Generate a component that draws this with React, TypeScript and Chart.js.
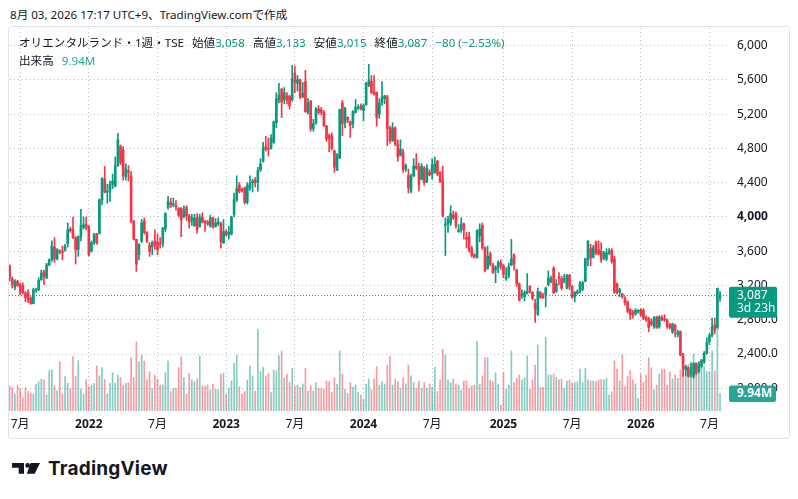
import React, { useEffect, useRef } from "react";
import { Chart, registerables } from "chart.js";

Chart.register(...registerables);

// Weekly bars, first week starting 2021-06-07, last week 2026-08-03
const firstWeek = "2021-06-07";

const opens = [
  3430, 3280, 3180, 3250, 3210, 3200, 3110, 3120, 3050, 2990,
  3140, 3150, 3270, 3360, 3290, 3440, 3500, 3650, 3510, 3600,
  3600, 3610, 3690, 3860, 3850, 3760, 3620, 3770, 3880, 3910,
  3890, 3600, 3700, 3800, 3810, 4200, 4440, 4290, 4300, 4380,
  4360, 4600, 4820, 4780, 4470, 4540, 4480, 3950, 3740, 3560,
  3720, 3950, 3820, 3670, 3650, 3720, 3710, 3690, 3690, 3860,
  4110, 4170, 4140, 4130, 4100, 4100, 4010, 4110, 4010, 3960,
  3900, 3990, 3890, 4000, 3950, 3940, 3900, 3990, 3890, 3920,
  3920, 3700, 3830, 3790, 3800, 4030, 4200, 4370, 4320, 4340,
  4170, 4340, 4400, 4430, 4400, 4550, 4650, 4820, 4800, 4800,
  4870, 5100, 5370, 5490, 5370, 5410, 5410, 5370, 5680, 5560,
  5600, 5400, 5580, 5220, 5350, 5030, 5100, 5260, 5250, 5220,
  5060, 4950, 4950, 4770, 4550, 4690, 5330, 5100, 5160, 5110,
  5090, 5220, 5270, 5290, 5240, 5310, 5540, 5580, 5460, 5450,
  5200, 5340, 5380, 5400, 5040, 4890, 5040, 4850, 4720, 4750,
  4560, 4480, 4300, 4480, 4600, 4580, 4440, 4570, 4410, 4520,
  4500, 4520, 4650, 4520, 4430, 3905, 3920, 3930, 4020, 4040,
  3830, 3850, 3920, 3760, 3770, 3630, 3560, 3530, 3780, 3900,
  3640, 3400, 3570, 3440, 3380, 3410, 3470, 3430, 3280, 3310,
  3440, 3560, 3380, 3220, 3080, 3070, 3110, 3190, 3120, 2990,
  2860, 3120, 3080, 3090, 3210, 3250, 3400, 3130, 3300, 3280,
  3260, 3170, 3320, 3190, 3070, 3110, 3140, 3160, 3250, 3500,
  3630, 3530, 3700, 3620, 3600, 3530, 3510, 3580, 3610, 3510,
  3220, 3120, 3100, 3050, 3010, 2920, 2880, 2870, 2890, 2920,
  2910, 2830, 2810, 2780, 2720, 2830, 2720, 2830, 2810, 2800,
  2740, 2660, 2730, 2630, 2660, 2400, 2220, 2240, 2180, 2140,
  2290, 2200, 2260, 2310, 2410, 2550, 2620, 2740, 2710, 3058,
];

const highs = [
  3440, 3300, 3270, 3260, 3230, 3230, 3130, 3150, 3070, 3170,
  3170, 3290, 3380, 3380, 3460, 3510, 3720, 3760, 3630, 3620,
  3660, 3680, 3930, 3880, 4000, 3770, 3780, 4090, 4000, 4000,
  3900, 3720, 3810, 3810, 4210, 4460, 4590, 4380, 4420, 4500,
  4700, 4975, 4840, 4820, 4620, 4600, 4530, 3960, 3740, 3690,
  3970, 3990, 3830, 3700, 3720, 3850, 3800, 3760, 3880, 4050,
  4240, 4220, 4220, 4190, 4110, 4110, 4130, 4130, 4030, 4030,
  4030, 4040, 4030, 4050, 3960, 3960, 4020, 4000, 3980, 3990,
  3940, 3970, 3850, 3890, 4010, 4280, 4480, 4400, 4340, 4350,
  4400, 4480, 4440, 4460, 4580, 4680, 4870, 4940, 4920, 4960,
  5120, 5450, 5560, 5500, 5510, 5450, 5420, 5770, 5760, 5650,
  5610, 5570, 5710, 5380, 5360, 5140, 5280, 5300, 5280, 5240,
  5070, 4970, 4980, 4780, 4740, 5260, 5360, 5280, 5170, 5120,
  5240, 5370, 5310, 5320, 5320, 5570, 5780, 5650, 5650, 5460,
  5380, 5580, 5420, 5420, 5060, 5100, 5050, 4900, 4900, 4790,
  4620, 4560, 4500, 4680, 4740, 4630, 4620, 4590, 4610, 4550,
  4680, 4700, 4660, 4530, 4590, 3990, 4010, 4130, 4070, 4060,
  3910, 3990, 3930, 3820, 3820, 3660, 3570, 3850, 3920, 3930,
  3650, 3660, 3590, 3460, 3430, 3490, 3500, 3450, 3410, 3460,
  3740, 3570, 3390, 3230, 3150, 3140, 3340, 3200, 3130, 3040,
  3170, 3130, 3110, 3180, 3370, 3310, 3420, 3270, 3350, 3310,
  3330, 3330, 3330, 3200, 3130, 3150, 3250, 3250, 3520, 3720,
  3680, 3670, 3720, 3720, 3700, 3600, 3630, 3630, 3630, 3540,
  3230, 3170, 3110, 3070, 3020, 2930, 2910, 2930, 2920, 2930,
  2930, 2850, 2830, 2810, 2840, 2840, 2850, 2850, 2860, 2810,
  2760, 2760, 2750, 2680, 2670, 2410, 2270, 2250, 2290, 2300,
  2300, 2310, 2340, 2430, 2590, 2640, 2820, 2820, 3170, 3133,
];

const lows = [
  3250, 3170, 3150, 3190, 3090, 3100, 3010, 3000, 2980, 2985,
  3120, 3140, 3260, 3210, 3280, 3430, 3480, 3470, 3500, 3570,
  3500, 3600, 3650, 3820, 3750, 3450, 3540, 3720, 3860, 3850,
  3545, 3590, 3680, 3680, 3800, 4140, 4280, 4160, 4180, 4330,
  4350, 4590, 4610, 4430, 4430, 4420, 3930, 3730, 3365, 3500,
  3700, 3800, 3700, 3540, 3560, 3620, 3560, 3640, 3650, 3830,
  4090, 4110, 4120, 4080, 4000, 3770, 3990, 3960, 3870, 3900,
  3890, 3810, 3880, 3930, 3830, 3900, 3880, 3870, 3880, 3900,
  3640, 3690, 3780, 3740, 3790, 4000, 4180, 4280, 4290, 4150,
  4150, 4310, 4290, 4350, 4300, 4530, 4640, 4770, 4710, 4790,
  4860, 5040, 5330, 5160, 5320, 5320, 5260, 5350, 5450, 5470,
  5380, 5390, 5220, 5200, 5000, 5000, 5080, 5200, 5190, 5060,
  4880, 4760, 4780, 4520, 4540, 4680, 4950, 5040, 5100, 4930,
  5040, 5210, 5250, 5250, 5120, 5300, 5520, 5440, 5420, 5060,
  5150, 5300, 5320, 4830, 4860, 4880, 4830, 4650, 4710, 4520,
  4530, 4280, 4280, 4470, 4550, 4300, 4430, 4370, 4400, 4480,
  4440, 4510, 4480, 4400, 4000, 3550, 3820, 3900, 3970, 3870,
  3820, 3820, 3740, 3640, 3590, 3530, 3520, 3520, 3710, 3620,
  3360, 3390, 3430, 3340, 3230, 3350, 3390, 3290, 3260, 3290,
  3430, 3380, 3190, 3020, 3050, 3020, 3100, 3110, 3030, 2770,
  2850, 3050, 3050, 2950, 3200, 3230, 3110, 3120, 3210, 3150,
  3230, 3160, 3150, 3050, 3010, 3100, 3110, 3140, 3240, 3430,
  3430, 3520, 3560, 3560, 3470, 3500, 3490, 3560, 3460, 3110,
  3100, 3070, 3050, 2970, 2880, 2800, 2820, 2850, 2880, 2840,
  2800, 2780, 2660, 2730, 2700, 2700, 2700, 2790, 2780, 2700,
  2690, 2640, 2600, 2600, 2380, 2140, 2150, 2130, 2130, 2120,
  2160, 2180, 2240, 2290, 2400, 2510, 2600, 2640, 2700, 3015,
];

const closes = [
  3290, 3210, 3250, 3200, 3120, 3110, 3060, 3030, 2990, 3150,
  3150, 3260, 3345, 3310, 3440, 3500, 3660, 3510, 3620, 3590,
  3585, 3660, 3850, 3840, 3760, 3620, 3770, 3900, 3910, 3880,
  3560, 3700, 3800, 3700, 4200, 4450, 4290, 4300, 4380, 4420,
  4600, 4900, 4640, 4480, 4560, 4520, 3950, 3740, 3450, 3680,
  3930, 3820, 3720, 3600, 3700, 3680, 3620, 3680, 3870, 4040,
  4180, 4140, 4150, 4120, 4020, 3965, 4080, 4010, 3940, 3990,
  3990, 3850, 3990, 3940, 3940, 3920, 3990, 3880, 3930, 3940,
  3710, 3830, 3790, 3820, 4000, 4200, 4330, 4300, 4310, 4170,
  4370, 4390, 4420, 4400, 4540, 4620, 4810, 4790, 4790, 4920,
  5110, 5380, 5420, 5340, 5450, 5360, 5300, 5610, 5570, 5600,
  5400, 5440, 5230, 5330, 5030, 5090, 5260, 5220, 5220, 5060,
  4910, 4910, 4800, 4580, 4730, 5250, 5090, 5270, 5130, 5070,
  5230, 5280, 5275, 5260, 5300, 5560, 5590, 5450, 5430, 5160,
  5330, 5400, 5410, 5030, 4890, 5040, 4850, 4700, 4790, 4550,
  4600, 4340, 4480, 4590, 4570, 4380, 4590, 4400, 4570, 4490,
  4610, 4620, 4500, 4420, 4010, 3920, 3970, 4040, 3990, 3900,
  3850, 3920, 3850, 3740, 3620, 3550, 3530, 3840, 3860, 3640,
  3370, 3540, 3450, 3350, 3410, 3470, 3430, 3330, 3300, 3420,
  3510, 3450, 3220, 3030, 3100, 3120, 3130, 3130, 3050, 2920,
  3130, 3060, 3060, 3170, 3290, 3280, 3110, 3220, 3280, 3170,
  3280, 3320, 3190, 3060, 3120, 3130, 3230, 3230, 3510, 3720,
  3520, 3640, 3580, 3570, 3500, 3580, 3580, 3600, 3480, 3120,
  3120, 3150, 3070, 3000, 2900, 2860, 2860, 2910, 2910, 2860,
  2820, 2800, 2710, 2750, 2820, 2710, 2830, 2800, 2800, 2720,
  2710, 2750, 2680, 2660, 2390, 2240, 2250, 2140, 2200, 2290,
  2180, 2280, 2330, 2410, 2540, 2620, 2720, 2680, 3167, 3087,
];

// weekly volume, millions of shares
const volumes = [
  14.3, 13.3, 9.7, 14.8, 12.7, 7.6, 13.3, 11.0, 10.4, 9.7,
  15.4, 16.7, 18.2, 17.7, 9.1, 23.0, 23.4, 14.3, 11.6, 28.1,
  9.7, 19.6, 15.8, 12.7, 31.0, 19.6, 28.7, 12.7, 9.7, 18.0,
  13.9, 14.8, 15.8, 25.6, 20.0, 24.7, 18.0, 9.7, 15.8, 21.8,
  15.8, 20.5, 19.0, 14.8, 15.8,
  16.2, 30.4, 19.0, 39.5, 28.1, 31.9, 28.5, 17.7, 22.4, 12.9,
  20.5, 18.2, 14.8, 14.8, 21.8, 28.5, 11.0, 12.9, 12.9, 24.7,
  31.0, 19.0, 9.7, 21.5, 17.7, 16.7, 18.2, 31.4, 14.3, 14.3,
  14.8, 12.0, 15.2, 12.4, 12.0, 21.1, 21.5, 9.5, 12.9, 17.1,
  27.2, 31.9, 13.9, 9.5, 11.0, 17.7, 25.7,
  20.0, 11.4, 46.6, 22.4, 24.9, 20.0, 21.5, 10.5, 23.4, 22.8,
  31.4, 34.2, 18.6, 21.1, 16.2, 24.3, 14.3, 14.8, 13.5, 15.4,
  24.3, 11.4, 14.3, 11.4, 16.2, 12.9, 12.9, 12.4, 17.1, 16.7,
  10.5, 19.0, 15.4, 34.2, 21.1, 12.4, 10.1, 16.2, 13.5, 14.8,
  10.5, 9.1, 6.7, 15.4, 18.2,
  12.0, 18.2, 25.3, 14.8, 16.7, 15.4, 26.2, 31.0, 14.8, 18.2,
  16.7, 12.9, 19.0, 15.4, 26.2, 20.0, 16.2, 12.9, 17.1, 12.9,
  16.2, 12.9, 15.4, 13.5, 24.9, 11.0, 17.7, 35.3, 31.9, 17.7,
  16.2, 18.2, 15.4, 14.8, 12.0, 17.1, 17.1, 12.9, 14.3, 14.8,
  39.9, 15.4, 20.0, 30.4, 30.4, 17.7,
  16.7, 21.8, 15.4, 3.4, 21.8, 12.4, 14.8, 34.2, 16.2, 18.6,
  20.5, 17.7, 19.0, 31.4, 12.4, 17.7, 26.2, 37.6, 13.5, 13.5,
  42.0, 20.5, 20.5, 21.1, 19.2, 17.7, 18.2, 12.9, 17.1, 17.7,
  16.2, 16.3, 16.7, 23.9, 16.2, 24.3, 17.7, 17.1, 17.1, 16.7,
  17.7, 18.0, 17.7, 18.6, 9.1,
  11.0, 28.5, 23.9, 17.1, 31.9, 13.9, 19.6, 23.0, 17.7, 15.4,
  7.2, 21.1, 16.3, 20.5, 30.4, 24.7, 12.0, 14.8, 21.1, 23.9,
  23.9, 14.8, 22.2, 18.2, 20.5, 18.6, 23.4, 29.5, 26.2, 26.6,
  28.1, 32.5, 27.2, 28.1, 25.3, 25.3, 22.4, 22.4, 34.2, 22.8,
  50.0, 9.94,
];

const priceTicks = [2000, 2400, 2800, 3200, 3600, 4000, 4400, 4800, 5200, 5600, 6000];
const timeTickIndex = [4, 30, 56, 82, 108, 134, 160, 187, 213, 239, 265];
const timeTickLabels = ["7月", "2022", "7月", "2023", "7月", "2024", "7月", "2025", "7月", "2026", "7月"];

const UP = "#089981";
const DOWN = "#F23645";
const UP_VOL = "rgba(8,153,129,0.5)";
const DOWN_VOL = "rgba(242,54,69,0.5)";
const VOL_TAG = "#26a69a";
const TEXT = "#131722";
const GRID = "#b9bcc3";
const FONT = '"Noto Sans", "Noto Sans CJK JP", sans-serif';

const countdownText = "3d 23h";

function fmtPrice(v: number): string {
  if (v >= 3000) return v.toLocaleString("en-US");
  return v.toLocaleString("en-US", { minimumFractionDigits: 1, maximumFractionDigits: 1 });
}

// dotted grid drawn at the scales' tick positions
const dottedGridPlugin = {
  id: "dottedGrid",
  beforeDatasetsDraw(chart: any) {
    const { ctx, chartArea, scales } = chart;
    const { left, right, top, bottom } = chartArea;
    ctx.save();
    ctx.fillStyle = GRID;
    scales.y.ticks.forEach((t: any) => {
      const y = Math.floor(scales.y.getPixelForValue(t.value));
      for (let x = Math.ceil(left) + 1; x < right; x += 4) ctx.fillRect(x, y, 1, 1);
    });
    scales.x.ticks.forEach((t: any) => {
      const x = Math.floor(scales.x.getPixelForValue(t.value));
      for (let y = Math.ceil(top) + 1; y < bottom; y += 4) ctx.fillRect(x, y, 1, 1);
    });
    ctx.restore();
  },
};

const lastPricePlugin = {
  id: "lastPrice",
  afterDatasetsDraw(chart: any) {
    const { ctx, chartArea, scales } = chart;
    const last = closes[closes.length - 1];
    const y = Math.floor(scales.y.getPixelForValue(last));
    ctx.save();
    ctx.fillStyle = UP;
    for (let x = Math.ceil(chartArea.left); x < chartArea.right; x += 3) ctx.fillRect(x, y, 1, 1);
    ctx.restore();
  },
  afterDraw(chart: any) {
    const { ctx, chartArea, scales } = chart;
    const last = closes[closes.length - 1];
    const lastVol = volumes[volumes.length - 1];
    const py = scales.y.getPixelForValue(last);
    const vy = scales.vol.getPixelForValue(lastVol);
    const x0 = chartArea.right + 2;
    const roundRect = (x: number, y: number, w: number, h: number, r: number) => {
      ctx.beginPath();
      ctx.moveTo(x + r, y);
      ctx.lineTo(x + w - r, y);
      ctx.quadraticCurveTo(x + w, y, x + w, y + r);
      ctx.lineTo(x + w, y + h - r);
      ctx.quadraticCurveTo(x + w, y + h, x + w - r, y + h);
      ctx.lineTo(x + r, y + h);
      ctx.quadraticCurveTo(x, y + h, x, y + h - r);
      ctx.lineTo(x, y + r);
      ctx.quadraticCurveTo(x, y, x + r, y);
      ctx.closePath();
      ctx.fill();
    };
    ctx.save();
    ctx.fillStyle = UP;
    roundRect(x0, py - 8.5, 48, 31, 2);
    ctx.fillStyle = "#ffffff";
    ctx.font = `12px ${FONT}`;
    ctx.textAlign = "left";
    ctx.textBaseline = "middle";
    ctx.fillText(fmtPrice(last), x0 + 8, py + 0.5);
    ctx.fillText(countdownText, x0 + 8, py + 13);
    ctx.fillStyle = VOL_TAG;
    roundRect(x0, vy - 8, 47, 16.5, 2);
    ctx.fillStyle = "#ffffff";
    ctx.font = `bold 12px ${FONT}`;
    ctx.fillText(lastVol.toFixed(2) + "M", x0 + 8, vy + 0.5);
    ctx.restore();
  },
};

export default function App() {
  const canvasRef = useRef<HTMLCanvasElement | null>(null);

  useEffect(() => {
    const canvas = canvasRef.current;
    if (!canvas) return;
    const isUp = closes.map((c, i) => c >= opens[i]);
    const candleColors = isUp.map((u) => (u ? UP : DOWN));
    const volColors = isUp.map((u) => (u ? UP_VOL : DOWN_VOL));

    const chart = new Chart(canvas, {
      type: "bar",
      data: {
        datasets: [
          {
            label: "volume",
            data: volumes.map((v, i) => ({ x: i, y: v })),
            yAxisID: "vol",
            backgroundColor: volColors,
            barThickness: 1,
            grouped: false,
            order: 3,
          } as any,
          {
            label: "wick",
            data: lows.map((l, i) => ({ x: i, y: [l, highs[i]] })),
            yAxisID: "y",
            backgroundColor: candleColors,
            barThickness: 1,
            grouped: false,
            order: 2,
          } as any,
          {
            label: "body",
            data: opens.map((o, i) => ({ x: i, y: [o, closes[i]] })),
            yAxisID: "y",
            backgroundColor: candleColors,
            barThickness: 2,
            minBarLength: 1,
            grouped: false,
            order: 1,
          } as any,
        ],
      },
      options: {
        animation: false,
        responsive: false,
        devicePixelRatio: 1,
        layout: { padding: 0 },
        plugins: {
          legend: { display: false },
          tooltip: { enabled: false },
        },
        scales: {
          x: {
            type: "linear",
            min: -0.23,
            max: 271.64,
            offset: false,
            grid: { display: false, drawTicks: false, offset: false },
            border: { display: false },
            afterBuildTicks: (scale: any) => {
              scale.ticks = timeTickIndex.map((v) => ({ value: v }));
            },
            afterFit: (scale: any) => {
              scale.height = 27;
              scale.paddingLeft = 0;
              scale.paddingRight = 0;
              scale.paddingTop = 0;
              scale.paddingBottom = 0;
            },
            ticks: {
              autoSkip: false,
              maxRotation: 0,
              padding: 6,
              color: TEXT,
              font: (ctx: any) => {
                const i = timeTickIndex.indexOf(ctx.tick ? ctx.tick.value : -1);
                const year = i >= 0 && /^\d{4}$/.test(timeTickLabels[i]);
                return { family: FONT, size: 12, weight: year ? "bold" : "normal" };
              },
              callback: (value: any) => {
                const i = timeTickIndex.indexOf(Number(value));
                return i >= 0 ? timeTickLabels[i] : "";
              },
            },
          },
          y: {
            type: "linear",
            position: "right",
            min: 1735.8,
            max: 6216.5,
            grid: { display: false, drawTicks: false },
            border: { display: false },
            afterBuildTicks: (scale: any) => {
              scale.ticks = priceTicks.map((v) => ({ value: v }));
            },
            afterFit: (scale: any) => {
              scale.width = 62;
              scale.paddingTop = 0;
              scale.paddingBottom = 0;
              scale.paddingLeft = 0;
              scale.paddingRight = 0;
            },
            ticks: {
              padding: 10,
              color: TEXT,
              crossAlign: "near",
              font: (ctx: any) => ({
                family: FONT,
                size: 12,
                weight: ctx.tick && ctx.tick.value === 4000 ? "bold" : "normal",
              }),
              callback: (value: any) => fmtPrice(Number(value)),
            },
          },
          vol: {
            type: "linear",
            display: false,
            min: 0,
            max: 218.9,
          },
        },
      } as any,
      plugins: [dottedGridPlugin, lastPricePlugin],
    });
    return () => chart.destroy();
  }, []);

  const green = { color: UP };
  const dark = { color: TEXT };

  return (
    <div
      style={{
        position: "fixed",
        left: 0,
        top: 0,
        width: 798,
        height: 499,
        background: "#ffffff",
        overflow: "hidden",
        fontFamily: FONT,
      }}
    >
      <div style={{ position: "absolute", left: 10, top: 6, fontSize: 11.6, color: TEXT, whiteSpace: "nowrap", lineHeight: "18px" }}>
        8月 03, 2026 17:17 UTC+9、TradingView.comで作成
      </div>
      <div
        style={{
          position: "absolute",
          left: 8,
          top: 26,
          width: 780,
          height: 411,
          border: "1px solid #e0e3eb",
          borderRadius: 3,
        }}
      >
        <canvas ref={canvasRef} width={780} height={411} style={{ display: "block", width: 780, height: 411 }} />
      </div>
      <div style={{ position: "absolute", left: 19, top: 34, fontSize: 11.6, lineHeight: "17.5px", whiteSpace: "nowrap" }}>
        <div>
          <span style={dark}>オリエンタルランド・1週・TSE</span>
          <span style={{ ...dark, marginLeft: 8 }}>始値</span>
          <span style={green}>3,058</span>
          <span style={{ ...dark, marginLeft: 8 }}>高値</span>
          <span style={green}>3,133</span>
          <span style={{ ...dark, marginLeft: 8 }}>安値</span>
          <span style={green}>3,015</span>
          <span style={{ ...dark, marginLeft: 8 }}>終値</span>
          <span style={green}>3,087</span>
          <span style={{ ...green, marginLeft: 8 }}>−80 (−2.53%)</span>
        </div>
        <div>
          <span style={dark}>出来高</span>
          <span style={{ color: VOL_TAG, marginLeft: 8 }}>9.94M</span>
        </div>
      </div>
      <div style={{ position: "absolute", left: 12, top: 458, display: "flex", alignItems: "center" }}>
        <svg width="30" height="14" viewBox="0 0 30 14" style={{ display: "block" }}>
          <path d="M0 1 H12 V11.7 H6.7 V5.7 H0 Z" fill="#131722" />
          <circle cx="15.7" cy="3.4" r="2.4" fill="#131722" />
          <path d="M18.7 1 H28 L22.7 11.7 H14.7 Z" fill="#131722" />
        </svg>
        <span style={{ marginLeft: 6, fontFamily: '"Inter", "Noto Sans", sans-serif', fontWeight: 700, fontSize: 19, color: "#131722", lineHeight: "22px", letterSpacing: 0.2 }}>
          TradingView
        </span>
      </div>
    </div>
  );
}
